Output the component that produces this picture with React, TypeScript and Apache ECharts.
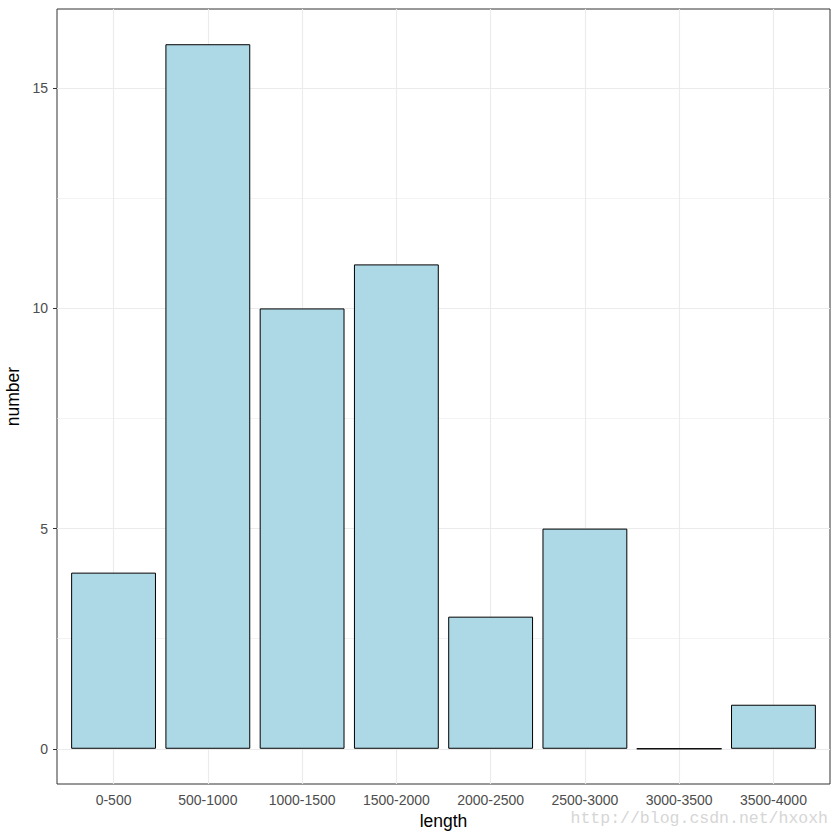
import React, { useEffect, useRef } from "react";
import * as echarts from "echarts";

const categories = ["0-500", "500-1000", "1000-1500", "1500-2000", "2000-2500", "2500-3000", "3000-3500", "3500-4000"];
const values = [4, 16, 10, 11, 3, 5, 0, 1];
const yTickValues = [0, 5, 10, 15];
const yMinorValues = [2.5, 7.5, 12.5];
const xTitle = "length";
const yTitle = "number";
const watermark = "http://blog.csdn.net/hxoxh";

export default function App() {
  const ref = useRef<HTMLDivElement>(null);
  useEffect(() => {
    if (!ref.current) return;
    const chart = echarts.init(ref.current, null, { renderer: "svg" });
    const positions = categories.map((_, i) => i + 1);
    const gridLines: any[] = [
      ...yMinorValues.map((v) => ({ yAxis: v, lineStyle: { color: "#ebebeb", width: 0.6, type: "solid" } })),
      ...yTickValues.map((v) => ({ yAxis: v, lineStyle: { color: "#ebebeb", width: 1.1, type: "solid" } })),
      ...positions.map((p) => ({ xAxis: p, lineStyle: { color: "#ebebeb", width: 1.1, type: "solid" } })),
    ];
    chart.setOption({
      animation: false,
      backgroundColor: "#ffffff",
      grid: {
        left: 57,
        right: 10,
        top: 9,
        bottom: 56,
        containLabel: false,
        outerBoundsMode: "none",
        show: true,
        borderColor: "#333333",
        borderWidth: 1,
        backgroundColor: "transparent",
      },
      xAxis: {
        type: "value",
        min: 0.4,
        max: 8.6,
        name: xTitle,
        nameLocation: "middle",
        nameGap: 28,
        nameTextStyle: { color: "#000000", fontSize: 17.5, fontFamily: "Liberation Sans" },
        axisLine: { show: false },
        axisTick: { show: true, length: 4, lineStyle: { color: "#333333", width: 1 }, customValues: positions },
        axisLabel: {
          show: true,
          customValues: positions,
          margin: 9,
          color: "#4d4d4d",
          fontSize: 14,
          fontFamily: "Liberation Sans",
          formatter: (v: number) => categories[Math.round(v) - 1] ?? "",
        },
        splitLine: { show: false },
      },
      yAxis: {
        type: "value",
        min: -0.8,
        max: 16.8,
        name: yTitle,
        nameLocation: "middle",
        nameRotate: 90,
        nameGap: 27,
        nameTextStyle: { color: "#000000", fontSize: 17.5, fontFamily: "Liberation Sans" },
        axisLine: { show: false },
        axisTick: { show: true, length: 4, lineStyle: { color: "#333333", width: 1 }, customValues: yTickValues },
        axisLabel: {
          show: true,
          customValues: yTickValues,
          margin: 9,
          color: "#4d4d4d",
          fontSize: 14,
          fontFamily: "Liberation Sans",
        },
        splitLine: { show: false },
      },
      series: [
        {
          type: "bar",
          z: 2,
          barWidth: "90%",
          data: values.map((v, i) => [positions[i], v]),
          itemStyle: { color: "#add8e6", borderColor: "#000000", borderWidth: 1 },
          markLine: {
            z: 1,
            silent: true,
            symbol: ["none", "none"],
            label: { show: false },
            emphasis: { disabled: true },
            data: gridLines,
          },
        },
      ],
      graphic: [
        {
          type: "text",
          right: 12,
          top: 810,
          style: {
            text: watermark,
            fill: "#d6d6d6",
            fontSize: 16.5,
            fontFamily: "Liberation Mono",
          },
        },
      ],
    });
    return () => chart.dispose();
  }, []);
  return <div ref={ref} style={{ position: "fixed", left: 0, top: 0, width: 840, height: 840 }} />;
}
